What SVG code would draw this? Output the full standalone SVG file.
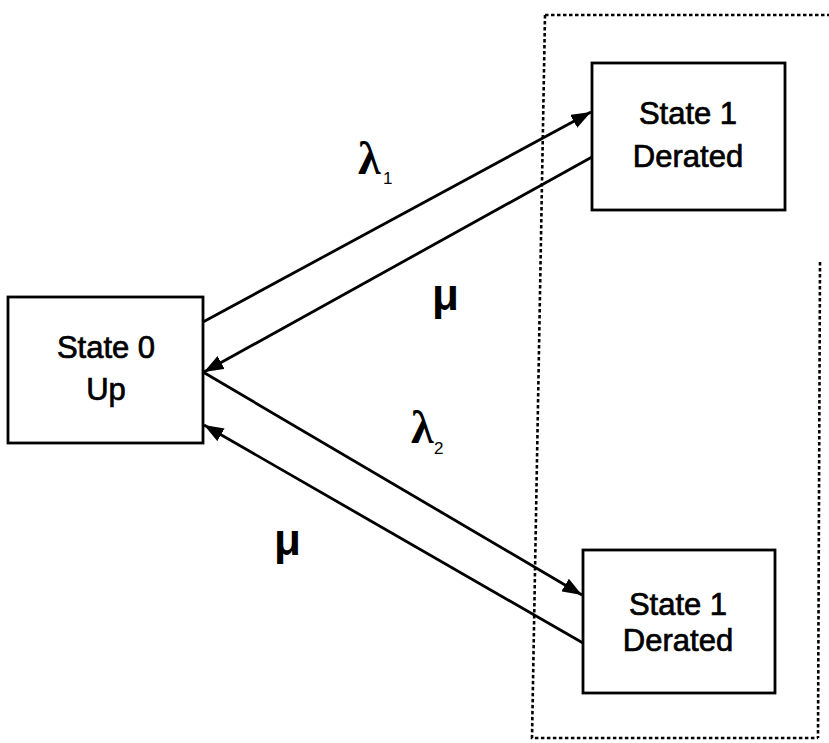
<svg xmlns="http://www.w3.org/2000/svg" width="829" height="743" viewBox="0 0 829 743">
  <style>
    .box { fill: #ffffff; stroke: #000000; stroke-width: 2.8; }
    .lbl { font-family: "Liberation Sans", Arial, sans-serif; font-size: 31px; fill: #000000; stroke: #000000; stroke-width: 0.7; text-anchor: middle; }
    .edge { stroke: #000000; stroke-width: 2.8; fill: none; marker-end: url(#head); }
    .dash { stroke: #000000; stroke-width: 2.6; fill: none; stroke-dasharray: 3.5 2.5; }
    .greek { font-family: "Liberation Serif", "Times New Roman", serif; font-weight: bold; font-size: 46px; fill: #000000; }
    .mu { font-family: "Liberation Sans", Arial, sans-serif; font-weight: bold; font-size: 44px; fill: #000000; }
    .sub { font-family: "Liberation Sans", Arial, sans-serif; font-size: 17px; fill: #000000; }
  </style>
  <defs>
    <marker id="head" viewBox="0 0 16 12" refX="16" refY="6" markerWidth="7" markerHeight="5.25" markerUnits="strokeWidth" orient="auto">
      <path d="M0,0 L16,6 L0,12 z" fill="#000000"/>
    </marker>
  </defs>
  <rect width="829" height="743" fill="#ffffff"/>

  <!-- dotted grouping frame around the derated states -->
  <g id="group-frame">
    <path class="dash" d="M545,15 L829,15"/>
    <path class="dash" d="M545,15 L532,738 L818,738"/>
    <path class="dash" d="M820,262 L818,738"/>
  </g>

  <!-- transitions -->
  <g id="connectors">
    <line class="edge" x1="203" y1="322" x2="591" y2="112"/>
    <line class="edge" x1="592" y1="157" x2="204" y2="372"/>
    <line class="edge" x1="203" y1="372" x2="582" y2="595"/>
    <line class="edge" x1="583" y1="643" x2="204" y2="425"/>
  </g>

  <g id="state0">
    <rect class="box" x="8" y="297" width="195" height="146"/>
    <text class="lbl" x="106" y="358">State 0</text>
    <text class="lbl" x="106" y="400">Up</text>
  </g>

  <g id="state1-top">
    <rect class="box" x="592" y="63" width="193" height="147"/>
    <text class="lbl" x="688" y="124">State 1</text>
    <text class="lbl" x="688" y="167">Derated</text>
  </g>

  <g id="state1-bottom">
    <rect class="box" x="583" y="550" width="192" height="143"/>
    <text class="lbl" x="678" y="615">State 1</text>
    <text class="lbl" x="678" y="651">Derated</text>
  </g>

  <!-- rate labels -->
  <g id="labels">
    <text class="greek" x="358" y="174">λ</text>
    <text class="sub" x="383" y="184">1</text>
    <text class="mu" x="432" y="310">μ</text>
    <text class="greek" x="411" y="443">λ</text>
    <text class="sub" x="434" y="454">2</text>
    <text class="mu" x="274" y="555">μ</text>
  </g>
</svg>
